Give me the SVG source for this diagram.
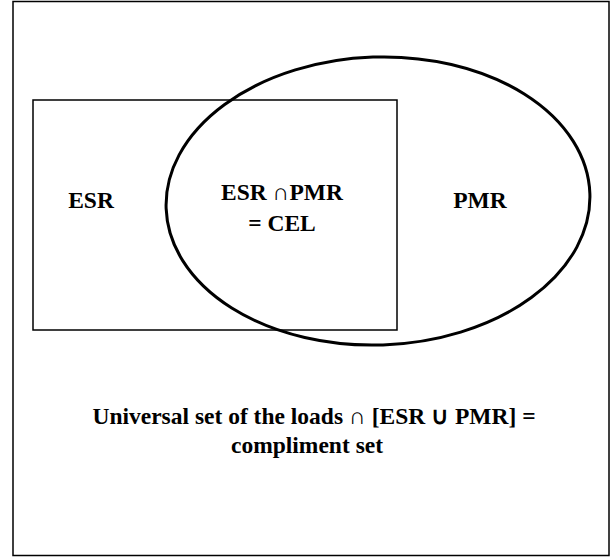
<svg xmlns="http://www.w3.org/2000/svg" width="612" height="557" viewBox="0 0 612 557">
<style>
.t{font-family:"Liberation Serif","Times New Roman",serif;font-weight:bold;font-size:23.5px;fill:#000;text-anchor:middle}
</style>
<rect x="0" y="0" width="612" height="557" fill="#fff"/>
<g id="universe">
<rect x="13" y="1.5" width="596" height="554" fill="none" stroke="#000" stroke-width="1.5"/>
</g>
<g id="esr">
<rect x="33" y="100" width="364" height="230" fill="none" stroke="#000" stroke-width="1.5"/>
<text class="t" x="91" y="208">ESR</text>
</g>
<g id="pmr">
<ellipse cx="378" cy="201" rx="212" ry="144" transform="rotate(-2 378 201)" fill="none" stroke="#000" stroke-width="3"/>
<text class="t" x="480" y="208">PMR</text>
</g>
<g id="cel">
<text class="t" x="282" y="200">ESR ∩PMR</text>
<text class="t" x="282" y="231">= CEL</text>
</g>
<g id="caption">
<text class="t" x="314" y="424">Universal set of the loads ∩ [ESR ∪ PMR] =</text>
<text class="t" x="307" y="453">compliment set</text>
</g>
<g id="connectors"/>
</svg>
